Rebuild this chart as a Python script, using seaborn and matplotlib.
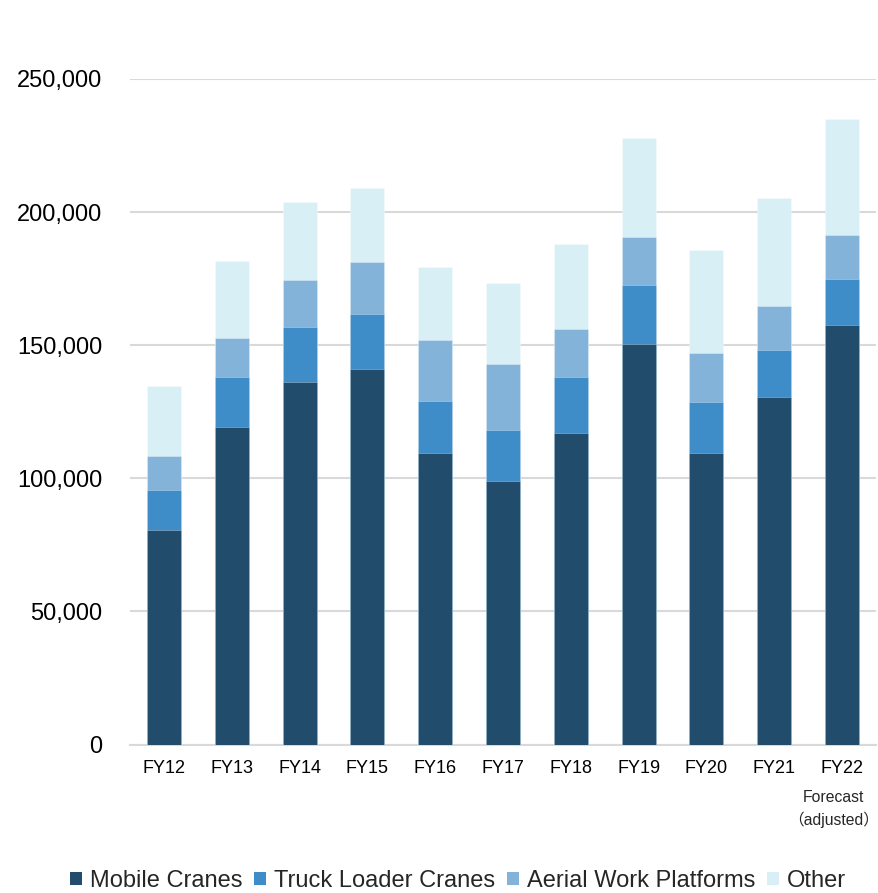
import matplotlib
matplotlib.use("Agg")
import matplotlib.pyplot as plt
import seaborn as sns
import pandas as pd
import numpy as np
from matplotlib.patches import Patch

categories = ["FY12", "FY13", "FY14", "FY15", "FY16", "FY17", "FY18", "FY19", "FY20", "FY21", "FY22"]
forecast_note = "Forecast\n（adjusted）"
series_names = ["Mobile Cranes", "Truck Loader Cranes", "Aerial Work Platforms", "Other"]
mobile_cranes = [80400, 119200, 136000, 141200, 109500, 98900, 117200, 150600, 109400, 130400, 157700]
truck_loader_cranes = [15200, 18700, 21000, 20500, 19400, 19300, 20700, 22100, 19100, 17800, 17300]
aerial_work_platforms = [12900, 14800, 17500, 19400, 23200, 24800, 18300, 17900, 18600, 16500, 16400]
other = [26200, 28900, 29400, 28100, 27400, 30400, 32000, 37300, 38600, 40700, 43500]
colors = ["#214C6C", "#3E8CC8", "#84B3DA", "#D8EFF5"]
yticks = [0, 50000, 100000, 150000, 200000, 250000]

sns.set_theme(style="white")
plt.rcParams["font.family"] = ["Liberation Sans", "Noto Sans CJK JP", "DejaVu Sans"]

df = pd.DataFrame({
    "FY": categories,
    series_names[0]: mobile_cranes,
    series_names[1]: truck_loader_cranes,
    series_names[2]: aerial_work_platforms,
    series_names[3]: other,
})

fig = plt.figure(figsize=(8.79, 8.93), dpi=100)
ax = fig.add_axes([130 / 879, 1 - 744.5 / 893, 746 / 879, (744.5 - 79) / 893])

bottom = np.zeros(len(categories))
for name, col in zip(series_names, colors):
    vals = df[name].to_numpy(dtype=float)
    tot = bottom + vals
    sns.barplot(x=df["FY"], y=tot, color=col, width=0.5, ax=ax,
                saturation=1, linewidth=0.6, edgecolor=(1, 1, 1, 0.35))
    bottom = tot

# lower segments drawn over the taller cumulative bars
for i, cont in enumerate(ax.containers):
    for p in cont:
        p.set_zorder(10 - i)

ax.set_ylim(0, 250000)
ax.set_xlim(-0.5, len(categories) - 0.5)
ax.set_yticks(yticks)
ax.set_yticklabels([f"{v:,}" for v in yticks], fontsize=17)
ax.yaxis.grid(True, color="#D9D9D9", linewidth=1.5)
ax.set_axisbelow(True)
for s in ["top", "right", "left"]:
    ax.spines[s].set_visible(False)
ax.spines["bottom"].set_color("#D9D9D9")
ax.spines["bottom"].set_linewidth(1.5)
ax.tick_params(axis="y", length=0, pad=20, colors="black")
ax.tick_params(axis="x", length=0, pad=11, colors="black")
ax.set_xticks(range(len(categories)))
ax.set_xticklabels(categories, fontsize=13)
ax.set_xlabel("")
ax.set_ylabel("")

ax.text(len(categories) - 1 - 0.13, -0.068, forecast_note, transform=ax.get_xaxis_transform(),
        ha="center", va="top", fontsize=11.3, linespacing=1.5)

handles = [Patch(facecolor=c, edgecolor="none") for c in colors]
fig.legend(handles, series_names, loc="center", bbox_to_anchor=(458 / 879, 1 - 881 / 893),
           ncol=4, frameon=False, fontsize=17, handlelength=0.5, handleheight=0.5,
           handletextpad=0.34, columnspacing=0.5, borderpad=0)

fig.savefig("out.png", dpi=100)
